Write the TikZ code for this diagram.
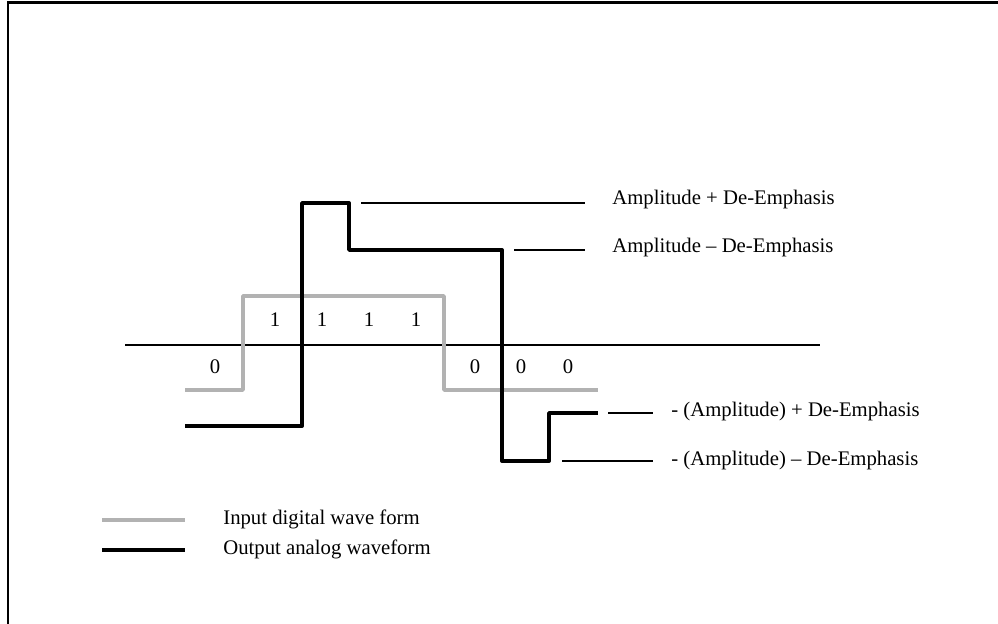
\documentclass[tikz,border=0pt]{standalone}
\usepackage{fontspec}
\setmainfont{Liberation Serif}
\usetikzlibrary{calc, positioning}

\tikzset{
  inwave/.style={draw=black!30, line width=2pt, line join=round},
  outwave/.style={draw=black, line width=2.2pt, line join=round},
  lead/.style={draw=black, line width=0.6pt},
  lbl/.style={anchor=west, inner sep=0pt, font=\fontsize{11.8}{13}\selectfont},
  bit/.style={inner sep=0pt, font=\fontsize{11.8}{13}\selectfont}
}

\begin{document}
\begin{tikzpicture}[x=0.02cm, y=-0.02cm]
\useasboundingbox (0,0) rectangle (998,624);

% frame (cut off at right and bottom)
\draw[line width=1.7pt] (8,624) -- (8,3) -- (998,3);

% axis
\coordinate (axL) at (125,345);
\coordinate (axR) at (820,345);
\draw[lead] (axL) -- (axR);

% input digital wave
\draw[inwave] (185,390) -- (243,390) -- (243,296) -- (444,296) -- (444,390) -- (598,390);

% output analog wave
\coordinate (Ohi) at (349,203);
\coordinate (Omid) at (502,250);
\coordinate (Olow) at (598,413);
\coordinate (Obot) at (549,461);
\draw[outwave] (185,426) -- (302,426) -- (302,203) -- (Ohi) -- (349,250)
  -- (Omid) -- (502,461) -- (Obot) -- (549,413) -- (Olow);

% bits
\node[bit] (b0) at (215,367) {0};
\foreach \x/\n in {275/1, 322/2, 369/3, 416/4}
  \node[bit] (one\n) at (\x,320) {1};
\foreach \x/\n in {475/1, 521/2, 568/3}
  \node[bit] (zero\n) at (\x,367) {0};

% labels
\node[lbl] (ampP) at (612,200) {Amplitude + De-Emphasis};
\node[lbl] (ampM) at (612,248) {Amplitude -- De-Emphasis};
\node[lbl] (namP) at (671,412) {- (Amplitude) + De-Emphasis};
\node[lbl] (namM) at (671,461) {- (Amplitude) -- De-Emphasis};

\draw[lead] ($(Ohi)+(12,0)$) -- ($(ampP.west |- Ohi)+(-27,0)$);
\draw[lead] ($(Omid)+(12,0)$) -- ($(ampM.west |- Omid)+(-27,0)$);
\draw[lead] ($(Olow)+(10,0)$) -- ($(namP.west |- Olow)+(-18,0)$);
\draw[lead] ($(Obot)+(13,0)$) -- ($(namM.west |- Obot)+(-18,0)$);

% legend
\coordinate (lgA) at (102,520);
\coordinate (lgB) at (102,550);
\node[lbl] (lgIn) at (223,519) {Input digital wave form};
\node[lbl] (lgOut) at (223,549) {Output analog waveform};
\draw[inwave] (lgA) -- ++(83,0);
\draw[outwave] (lgB) -- ++(83,0);
\end{tikzpicture}
\end{document}
